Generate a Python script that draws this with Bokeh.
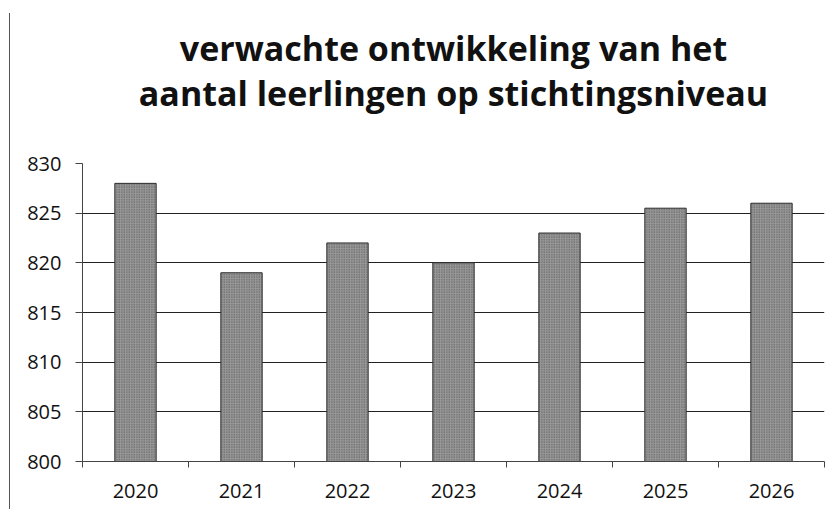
from bokeh.plotting import figure
from bokeh.models import Range1d, FixedTicker, Title
from bokeh.embed import file_html
from bokeh.resources import INLINE

# data
years = ["2020", "2021", "2022", "2023", "2024", "2025", "2026"]
pupils = [828, 819, 822, 820, 823, 825.5, 826]
y_ticks = [800, 805, 810, 815, 820, 825, 830]
title_line1 = "verwachte ontwikkeling van het"
title_line2 = "aantal leerlingen op stichtingsniveau"

xs = list(range(1, len(years) + 1))

p = figure(width=824, height=496, output_backend="svg", toolbar_location=None,
           x_range=Range1d(0.5, len(years) + 0.5), y_range=Range1d(800, 830),
           min_border_left=72, min_border_right=10, min_border_bottom=48, min_border_top=150)
p.title = None
p.outline_line_color = None
p.background_fill_color = "white"
p.border_fill_color = "white"
p.styles = {"margin-left": "9px", "margin-top": "13px", "border-left": "1px solid #555555"}

p.vbar(x=xs, top=pupils, bottom=800, width=0.39,
       fill_color="#989898", line_color="#2a2a2a", line_width=1,
       hatch_pattern="dot", hatch_color="#333333", hatch_scale=2.5, hatch_alpha=0.7)

# two-line title; the trailing blank line keeps a gap above the plot frame
p.add_layout(Title(text=title_line1 + "\n" + title_line2 + "\n\u00a0",
                   align="center", text_align="center",
                   text_font="Open Sans", text_line_height=0.98,
                   text_font_size="34px", text_font_style="bold", text_color="#111111",
                   standoff=4), "above")

# y axis
ya = p.yaxis[0]
ya.ticker = FixedTicker(ticks=y_ticks, minor_ticks=[])
ya.major_tick_out = 7
ya.major_tick_in = 0
ya.minor_tick_out = 0
ya.minor_tick_in = 0
ya.axis_line_color = "#444444"
ya.major_tick_line_color = "#444444"
ya.major_label_text_font = "Open Sans"
ya.major_label_text_font_size = "20px"
ya.major_label_text_color = "#111111"
ya.major_label_standoff = 14

# x axis: labels at centres, tick marks at category boundaries
xa = p.xaxis[0]
xa.ticker = FixedTicker(ticks=xs, minor_ticks=[i + 0.5 for i in range(len(years) + 1)])
xa.major_label_overrides = {x: y for x, y in zip(xs, years)}
xa.major_tick_line_color = None
xa.major_tick_out = 0
xa.major_tick_in = 0
xa.minor_tick_out = 6
xa.minor_tick_in = 0
xa.minor_tick_line_color = "#444444"
xa.axis_line_color = "#444444"
xa.major_label_text_font = "Open Sans"
xa.major_label_text_font_size = "20px"
xa.major_label_text_color = "#111111"
xa.major_label_standoff = 16

p.xgrid.grid_line_color = None
p.ygrid.ticker = FixedTicker(ticks=y_ticks[1:])
p.ygrid.grid_line_color = "#222222"
p.ygrid.grid_line_width = 1

open("out.html", "w").write(file_html(p, INLINE))
